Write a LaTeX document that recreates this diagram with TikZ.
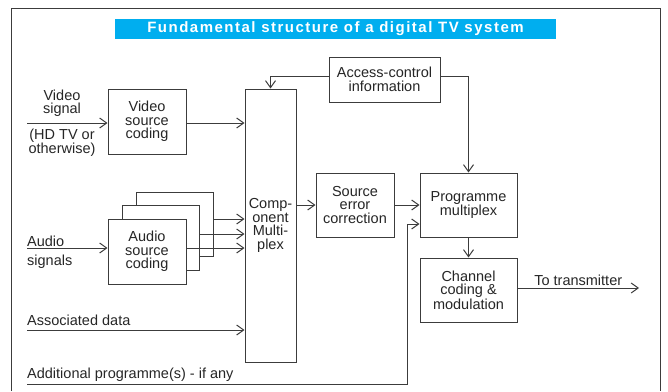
\documentclass[tikz,border=0pt]{standalone}
\usepackage{fontspec}
\setmainfont{Liberation Sans}
\newfontfamily\titlefont[LetterSpace=10]{Liberation Sans}
\usetikzlibrary{arrows.meta,positioning}
\definecolor{barcyan}{RGB}{0,174,239}
\definecolor{linegray}{RGB}{60,60,60}
\tikzset{
  box/.style={draw=linegray, line width=1pt, fill=white, align=center, inner sep=0pt, text=black!85, font=\fontsize{14.5}{13.5}\selectfont},
  lbl/.style={inner sep=0pt, align=center, text=black!85, font=\fontsize{14.5}{13.5}\selectfont},
  wire/.style={draw=linegray, line width=1pt},
  arr/.style={wire, -{Straight Barb[length=7pt,width=10pt]}},
}
\begin{document}
\begin{tikzpicture}[x=1pt,y=-1pt]
\useasboundingbox (0,0) rectangle (668,391);
% frame, open at the bottom
\draw[wire] (11,391) -- (11,8) -- (660,8) -- (660,391);
\node[fill=barcyan, minimum width=441pt, minimum height=20pt, inner sep=0pt, text=white, font=\titlefont\bfseries\fontsize{15}{15}\selectfont] (title) at (335.5,29) {Fundamental structure of a digital TV system};

% blocks
\node[box, minimum width=78pt, minimum height=65pt] (vsc) at (147,121.5) {Video\\source\\coding};
\node[box, minimum width=77pt, minimum height=64pt] (asc3) at (174.5,224) {};
\node[box, minimum width=77pt, minimum height=65pt] (asc2) at (160.5,237.5) {};
\node[box, minimum width=78pt, minimum height=65pt] (asc) at (147,251.5) {Audio\\source\\coding};
\node[box, minimum width=51pt, minimum height=273pt] (mux) at (270.5,225.5) {Comp-\\onent\\Multi-\\plex};
\node[box, minimum width=111pt, minimum height=45pt] (acc) at (384.5,79.5) {Access-control\\information};
\node[box, minimum width=78pt, minimum height=64pt] (sec) at (355,205) {Source\\error\\correction};
\node[box, minimum width=97pt, minimum height=64pt] (pm) at (468.5,205) {Programme\\multiplex};
\node[box, minimum width=97pt, minimum height=64pt] (chan) at (468.5,290) {Channel\\coding \&\\modulation};

% input labels
\node[lbl] (vlab) at (62,103) {Video\\signal};
\node[lbl] (hdlab) at (62,142.5) {(HD TV or\\otherwise)};
\node[lbl, anchor=base west] (alab) at (27,246) {Audio};
\node[lbl, anchor=base west] (slab) at (27,265) {signals};
\node[lbl, anchor=base west] (dlab) at (27,325) {Associated data};
\node[lbl, anchor=base west] (plab) at (27,378) {Additional programme(s) - if any};

\coordinate (vin) at (27,123);
\coordinate (ain) at (27,248);
\coordinate (din) at (27,330);
\coordinate (pin) at (27,384);
\coordinate (pup) at (407,224);
\coordinate (tx) at (639,288);

% signal paths
\draw[arr] (vin) -- (vin -| vsc.west);
\draw[arr] (vsc.east |- vin) -- (vin -| mux.west);
\draw[arr] (ain) -- (ain -| asc.west);
\draw[arr] (asc.east |- ain) -- (ain -| mux.west);
\draw[arr] (asc2.east |- 0,234) -- (mux.west |- 0,234);
\draw[arr] (asc3.east |- 0,219) -- (mux.west |- 0,219);
\draw[arr] (din) -- (din -| mux.west);
\draw[arr] (pin) -| (pup) -- (pup -| pm.west);
\draw[arr] ([yshift=3.5pt]acc.west) -| (mux.north);
\draw[arr] ([yshift=3.5pt]acc.east) -| (pm.north);
\draw[arr] (mux.east |- sec.west) -- (sec.west);
\draw[arr] (sec) -- (pm);
\draw[arr] (pm) -- (chan);
\draw[arr] (chan.east |- tx) -- (tx) node[lbl, midway, anchor=base, yshift=3pt] {To transmitter};
\end{tikzpicture}
\end{document}
